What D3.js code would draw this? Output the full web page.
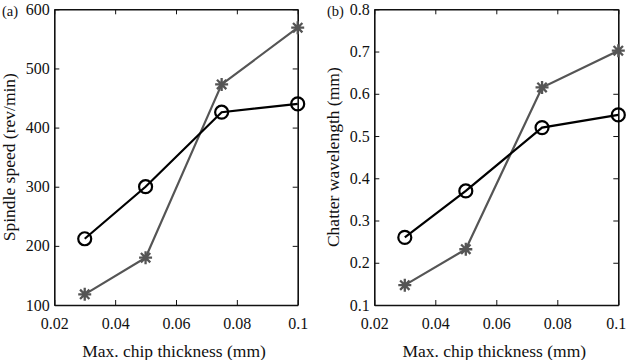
<!DOCTYPE html>
<html><head><meta charset="utf-8">
<script src="https://cdn.jsdelivr.net/npm/d3@7"></script>
<style>body{margin:0;background:#fff}svg{display:block}svg text{font-family:"Liberation Serif","Times New Roman",serif !important;fill:#111}</style>
</head><body><svg id="c" width="626" height="360"></svg>
<script>
const thickness = [0.03, 0.05, 0.075, 0.1];
const xTicks = [0.02, 0.04, 0.06, 0.08, 0.1];
const speedCircle = [212, 300, 426, 440];
const speedStar = [118, 180, 473, 569];
const speedTicks = [100, 200, 300, 400, 500, 600];
const waveCircle = [0.26, 0.37, 0.52, 0.55];
const waveStar = [0.147, 0.232, 0.615, 0.702];
const waveTicks = [0.1, 0.2, 0.3, 0.4, 0.5, 0.6, 0.7, 0.8];

const FONT = '"Liberation Serif", "Times New Roman", serif';
const svg = d3.select("#c");
const panels = [
  {tag:"(a)", left:54.3, right:297.7, yDom:[100,600], yTicks:speedTicks, fmt:d3.format("d"),
   circ:speedCircle, star:speedStar, ylab:"Spindle speed (rev/min)", tagX:2, ylabX:11, lastDx:0},
  {tag:"(b)", left:374.3, right:618.3, yDom:[0.1,0.8], yTicks:waveTicks, fmt:d3.format(".1f"),
   circ:waveCircle, star:waveStar, ylab:"Chatter wavelength (mm)", tagX:327, ylabX:335, lastDx:-2.5}
];
const plotTop = 9.3, plotBottom = 305;
const xFmt = d => d === 0.1 ? "0.1" : d3.format(".2f")(d);

panels.forEach(p => {
  const x = d3.scaleLinear().domain([0.02, 0.1]).range([p.left, p.right]);
  const y = d3.scaleLinear().domain(p.yDom).range([plotBottom, plotTop]);
  const g = svg.append("g");
  const tl = 5;
  const axB = g.append("g").attr("transform", `translate(0,${plotBottom})`)
    .call(d3.axisBottom(x).tickValues(xTicks).tickSizeInner(-tl).tickSizeOuter(0).tickPadding(13).tickFormat(xFmt));
  const axT = g.append("g").attr("transform", `translate(0,${plotTop})`)
    .call(d3.axisTop(x).tickValues(xTicks).tickSizeInner(-tl).tickSizeOuter(0).tickFormat(""));
  const axL = g.append("g").attr("transform", `translate(${p.left},0)`)
    .call(d3.axisLeft(y).tickValues(p.yTicks).tickSizeInner(-tl).tickSizeOuter(0).tickPadding(4.5).tickFormat(p.fmt));
  const axR = g.append("g").attr("transform", `translate(${p.right},0)`)
    .call(d3.axisRight(y).tickValues(p.yTicks).tickSizeInner(-tl).tickSizeOuter(0).tickFormat(""));
  [axB, axT, axL, axR].forEach(a => {
    a.attr("font-family", FONT).attr("font-size", 16);
    a.select(".domain").attr("stroke", "#111").attr("stroke-width", 1.6);
    a.selectAll(".tick line").attr("stroke", "#111").attr("stroke-width", 1);
    a.selectAll("text").attr("font-size", 16).attr("fill", "#111").attr("font-family", FONT);
  });
  axB.selectAll(".tick text").filter(d => d === 0.1).attr("dx", p.lastDx);
  g.append("text").attr("x", p.tagX).attr("y", 15.5).attr("font-size", 14.5).text(p.tag);
  g.append("text").attr("transform", `translate(${p.ylabX},${(plotTop+plotBottom)/2}) rotate(-90)`)
    .attr("text-anchor", "middle").attr("dominant-baseline", "middle").attr("font-size", 17.5).text(p.ylab);
  g.append("text").attr("x", (p.left + p.right) / 2 - 2).attr("y", 356.5).attr("text-anchor", "middle")
    .attr("font-size", 17.5).text("Max. chip thickness (mm)");

  const line = d3.line().x((d, i) => x(thickness[i])).y(d => y(d));
  g.append("path").datum(p.star).attr("d", line).attr("fill", "none").attr("stroke", "#555").attr("stroke-width", 2.2);
  const s = 6.5;
  g.selectAll(".star").data(p.star).join("path")
    .attr("transform", (d, i) => `translate(${x(thickness[i])},${y(d)})`)
    .attr("d", `M${-s},0L${s},0M0,${-s}L0,${s}M${-s*0.72},${-s*0.72}L${s*0.72},${s*0.72}M${-s*0.72},${s*0.72}L${s*0.72},${-s*0.72}`)
    .attr("stroke", "#555").attr("stroke-width", 2.3).attr("fill", "none");
  g.append("path").datum(p.circ).attr("d", line).attr("fill", "none").attr("stroke", "#000").attr("stroke-width", 2.2);
  g.selectAll(".circ").data(p.circ).join("circle")
    .attr("cx", (d, i) => x(thickness[i])).attr("cy", d => y(d)).attr("r", 6.5)
    .attr("fill", "none").attr("stroke", "#000").attr("stroke-width", 2.2);
});
</script></body></html>
